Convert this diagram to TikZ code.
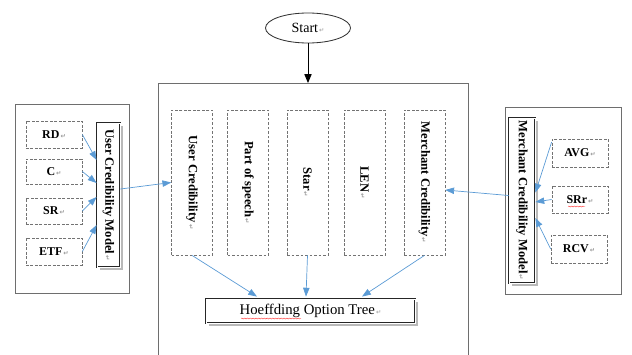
\documentclass[tikz,border=0pt]{standalone}
\usepackage{fontspec}
\setmainfont{Liberation Serif}
\newfontfamily\symfont{DejaVu Sans}
\usepackage{xcolor}
\usetikzlibrary{arrows.meta,shapes.geometric,shadows,calc,decorations.pathmorphing}

\definecolor{linkblue}{RGB}{91,155,213}
\definecolor{framegray}{RGB}{110,110,110}
\newcommand{\retmark}{{\symfont\fontsize{4.5}{5}\selectfont\color{gray!80}\,↵}}

\begin{document}
\begin{tikzpicture}[x=0.025cm, y=-0.025cm,
    feature/.style={draw=gray!90!black, dashed, dash pattern=on 2pt off 1.2pt, line width=0.5pt, inner sep=0pt, font=\fontsize{8.5}{9}\selectfont\bfseries},
    column/.style={feature, minimum width=10.2mm, minimum height=36.25mm, font=\fontsize{9}{10}\selectfont\bfseries},
    model/.style={draw=black!85, double=white, double distance=0.6pt, line width=0.6pt, inner sep=0pt, fill=white,
        drop shadow={shadow xshift=1.8pt, shadow yshift=-1.8pt, fill=gray!55, opacity=1}, font=\fontsize{9}{10}\selectfont\bfseries},
    panel/.style={draw=framegray, line width=0.5pt},
    link/.style={-{Triangle[length=2.2mm, width=1.6mm]}, linkblue, line width=0.5pt},
    spell/.style={red!80, line width=0.3pt, decorate, decoration={snake, amplitude=0.35pt, segment length=2pt}},
]
\useasboundingbox (0,0) rectangle (632,355);

% Start and main frame
\node[ellipse, draw=black!80, line width=0.6pt, minimum width=21.25mm, minimum height=7.5mm, inner sep=0pt, font=\fontsize{10}{11}\selectfont] (start) at (308,28) {Start\retmark};
\coordinate (maintop) at (308,83);
\draw[panel] (158,360) -- (158,83) -- (468,83) -- (468,360);
\draw[-{Triangle[length=2.2mm, width=1.8mm]}, black, line width=0.6pt] (start) -- (maintop);

% Feature columns
\node[column] (uc) at (192,182.5) {\rotatebox{-90}{User Credibility\retmark}};
\node[column] (pos) at (248,182.5) {\rotatebox{-90}{Part of speech\retmark}};
\node[column] (star) at (307.5,182.5) {\rotatebox{-90}{Star\retmark}};
\node[column] (len) at (364.5,182.5) {\rotatebox{-90}{LEN\retmark}};
\node[column] (mc) at (424.5,182.5) {\rotatebox{-90}{Merchant Credibility\retmark}};

% Classifier
\node[model, minimum width=52.25mm, minimum height=6mm, font=\fontsize{10.5}{11}\selectfont] (hot) at (310.5,311) {Hoeffding Option Tree\retmark};
\draw[spell] (241,318.5) -- (301,318.5);

% User credibility panel
\draw[panel] (15,104) rectangle (129,293);
\node[feature, minimum width=14mm, minimum height=6.75mm] (rd) at (54,134.5) {RD\retmark};
\node[feature, minimum width=14mm, minimum height=6.25mm] (c) at (54,171.5) {C\retmark};
\node[feature, minimum width=14mm, minimum height=6.5mm] (sr) at (54,211) {SR\retmark};
\node[feature, minimum width=14mm, minimum height=6.75mm] (etf) at (54,251.5) {ETF\retmark};
\node[model, minimum width=5.75mm, minimum height=36mm] (ucm) at (108.5,195) {\rotatebox{-90}{User Credibility Model\retmark}};

% Merchant credibility panel
\draw[panel] (505,107) rectangle (621,294);
\node[model, minimum width=6.5mm, minimum height=41.25mm] (mcm) at (522,200.5) {\rotatebox{-90}{Merchant Credibility Model\retmark}};
\node[feature, minimum width=14mm, minimum height=7mm] (avg) at (580,153) {AVG\retmark};
\node[feature, minimum width=14mm, minimum height=6.75mm] (srr) at (580,199.5) {SRr\retmark};
\node[feature, minimum width=14mm, minimum height=7mm] (rcv) at (579,249) {RCV\retmark};
\draw[spell] (568,206.5) -- (585,206.5);

% Inputs of the user model
\draw[link] (rd.east) -- ($(ucm.west)+(0,-35)$);
\draw[link] (c.east) -- ($(ucm.west)+(0,-12)$);
\draw[link] (sr.east) -- ($(ucm.west)+(0,2)$);
\draw[link] (etf.east) -- ($(ucm.west)+(0,30)$);
\draw[link] ($(ucm.east)+(0,-6)$) -- (uc.west);

% Inputs of the merchant model
\draw[link] ($(avg.west)+(0,-11)$) -- ($(mcm.east)+(0,-8)$);
\draw[link] (srr.west) -- ($(mcm.east)+(0,1.5)$);
\draw[link] (rcv.west) -- ($(mcm.east)+(0,17.5)$);
\draw[link] ($(mcm.west)+(0,-5)$) -- ($(mc.east)+(0,7.5)$);

% Into the tree
\draw[link] (uc.south) -- ($(hot.north)+(-53.5,-2)$);
\draw[link] (star.south) -- ($(hot.north)+(-4.5,-2)$);
\draw[link] (mc.south) -- ($(hot.north)+(51.5,-2)$);
\end{tikzpicture}
\end{document}
